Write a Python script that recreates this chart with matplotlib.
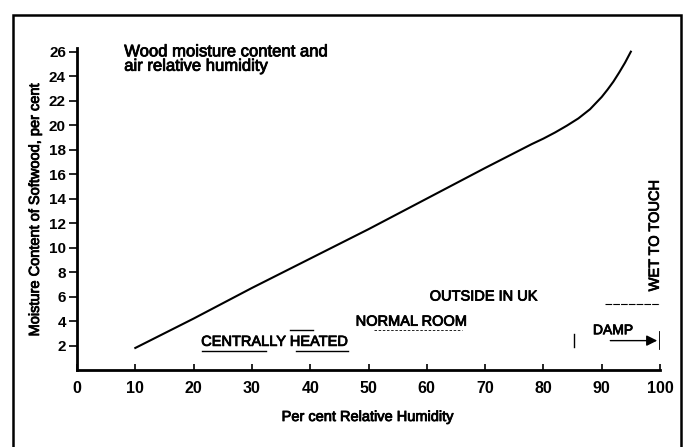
import matplotlib
matplotlib.use("Agg")
import matplotlib.pyplot as plt
import matplotlib.patheffects as pe
from matplotlib.patches import Rectangle

# Data
rh = [10, 20, 30, 40, 50, 60, 70, 78, 80, 82, 84, 86, 88, 90, 91, 92, 93, 94, 95]
mc = [1.8, 4.2, 6.7, 9.1, 11.5, 14.0, 16.5, 18.45, 18.9, 19.4, 19.95, 20.55,
      21.3, 22.3, 22.9, 23.55, 24.3, 25.1, 26.0]
x_ticks = [0, 10, 20, 30, 40, 50, 60, 70, 80, 90, 100]
y_ticks = [2, 4, 6, 8, 10, 12, 14, 16, 18, 20, 22, 24, 26]

plt.rcParams['font.family'] = ['Liberation Sans', 'DejaVu Sans']
thick = [pe.withStroke(linewidth=0.6, foreground='black')]

fig = plt.figure(figsize=(6.84, 4.47), dpi=100)
ax = fig.add_axes([77/684, 1-370/447, (660-77)/684, (370-48)/447])

ax.plot(rh, mc, color='black', lw=1.5, solid_joinstyle='round')

ax.set_xlim(0, 100)
ax.set_ylim(0, 26.3)
ax.set_xticks(x_ticks)
ax.set_yticks(y_ticks)
ax.tick_params(axis='x', direction='in', length=4, width=1.2, labelsize=11.5, pad=8)
ax.tick_params(axis='y', direction='out', length=6, width=1.2, labelsize=11, pad=2)
for lab in ax.get_xticklabels() + ax.get_yticklabels():
    lab.set_fontweight('bold')
for s in ['top', 'right']:
    ax.spines[s].set_visible(False)
for s in ['left', 'bottom']:
    ax.spines[s].set_linewidth(2)

ax.set_xlabel('Per cent Relative Humidity', fontsize=10.5, labelpad=10,
              path_effects=thick)
ax.set_ylabel('Moisture Content of Softwood, per cent', fontsize=10.5, labelpad=5,
              path_effects=thick)

ax.text(8.1, 26.6, 'Wood moisture content and\nair relative humidity',
        fontsize=12, va='top', ha='left', linespacing=0.95, path_effects=thick)

ax.text(21.3, 2.3, 'CENTRALLY HEATED', fontsize=10.5, va='center', ha='left',
        path_effects=thick)
ax.plot([21.5, 32.5], [1.55, 1.55], color='black', lw=1)
ax.plot([37.5, 46.5], [1.55, 1.55], color='black', lw=1)
ax.plot([36.5, 40.5], [3.3, 3.3], color='black', lw=1)

ax.text(47.8, 3.95, 'NORMAL ROOM', fontsize=10.5, va='center', ha='left',
        path_effects=thick)
ax.plot([51, 66], [3.3, 3.3], color='black', lw=0.6, ls=(0, (3, 2)))

ax.text(60.5, 6.0, 'OUTSIDE IN UK', fontsize=10.5, va='center', ha='left',
        path_effects=thick)
ax.plot([90.5, 100], [5.4, 5.4], color='black', lw=0.8, ls=(0, (6, 1)))

ax.text(88.5, 3.25, 'DAMP', fontsize=10, va='center', ha='left', path_effects=thick)
ax.annotate('', xy=(100, 2.4), xytext=(91, 2.4),
            arrowprops=dict(arrowstyle='-|>', color='black', lw=1,
                            mutation_scale=16))
ax.plot([100, 100], [1.7, 3.1], color='black', lw=1.3)
ax.plot([85.3, 85.3], [1.9, 2.9], color='black', lw=1)

ax.text(99.1, 11.0, 'WET TO TOUCH', fontsize=10.5, rotation=90, va='center',
        ha='center', path_effects=thick)

# Frame around the figure
fig.patches.append(Rectangle((13/684, -0.05), (681-13)/684, 1.05 - 15/447,
                             transform=fig.transFigure, fill=False,
                             edgecolor='black', lw=1.8))

fig.savefig('out.png', dpi=100)
